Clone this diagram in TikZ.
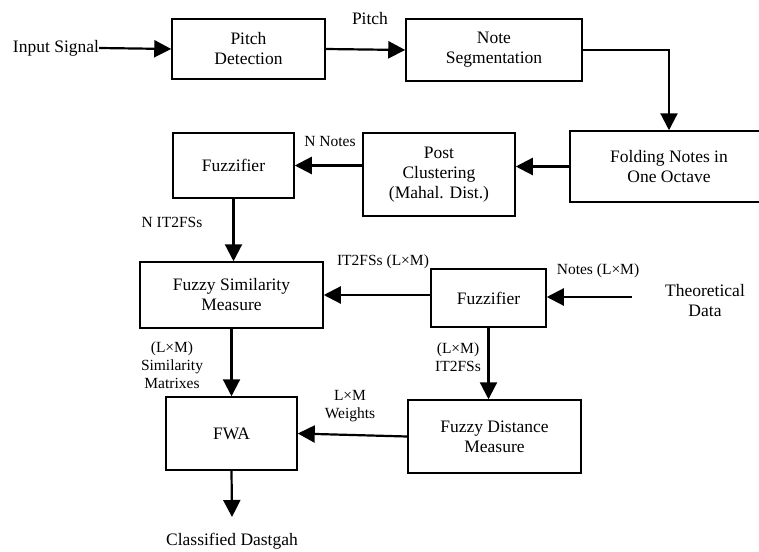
\documentclass[tikz,border=0pt]{standalone}
\usepackage{fontspec}
\setmainfont{Liberation Serif}
\usepackage{tikz}
\usetikzlibrary{arrows.meta}

\begin{document}
\begin{tikzpicture}[x=1pt,y=-1pt,
    blk/.style={draw,line width=1.5pt,align=center,inner sep=0pt,font=\fontsize{17.5}{20}\selectfont},
    txt/.style={align=center,inner sep=0pt,font=\fontsize{17.5}{20}\selectfont},
    lbl/.style={align=center,inner sep=0pt,font=\fontsize{15.5}{18}\selectfont},
    arr/.style={line width=2.2pt,-{Triangle[length=17pt,width=17pt]}}]
    \useasboundingbox (0,0) rectangle (759,551);
    \node[txt] (input) at (56,48) {Input Signal};
    \node[blk,minimum width=153pt,minimum height=60pt] (pitchdet) at (248.5,49) {Pitch\\Detection};
    \node[blk,minimum width=176pt,minimum height=62pt] (noteseg) at (494,50) {Note\\Segmentation};
    \node[blk,minimum width=198pt,minimum height=71pt] (folding) at (669,166.5) {Folding Notes in\\One Octave};
    \node[blk,minimum width=152pt,minimum height=83pt] (postclus) at (439,174.5) {Post\\Clustering\\(Mahal. Dist.)};
    \node[blk,minimum width=121pt,minimum height=65pt] (fuzzA) at (233.5,165.5) {Fuzzifier};
    \node[blk,minimum width=183pt,minimum height=66pt] (fsim) at (231.5,295) {Fuzzy Similarity\\Measure};
    \node[blk,minimum width=115pt,minimum height=58pt] (fuzzB) at (488.5,298) {Fuzzifier};
    \node[blk,minimum width=173pt,minimum height=73pt] (fdist) at (494.5,436.5) {Fuzzy Distance\\Measure};
    \node[blk,minimum width=131pt,minimum height=73pt] (fwa) at (231.5,433.5) {FWA};
    \node[txt] (theory) at (705,301) {Theoretical\\Data};
    \node[txt] (output) at (232,541) {Classified Dastgah};
    \coordinate (theoryend) at (632,297);
    \coordinate (outend) at (232,517);

    \draw[arr] (input.east) -- (pitchdet.west);
    \draw[arr] (pitchdet.east) -- (noteseg.west);
    \draw[arr] (noteseg.east) -| (folding.north);
    \draw[arr] (folding.west) -- (postclus.east |- folding.west);
    \draw[arr] (postclus.west |- fuzzA.east) -- (fuzzA.east);
    \draw[arr] (fuzzA.south) -- (fsim.north -| fuzzA.south);
    \draw[arr] (fuzzB.west |- fsim.east) -- (fsim.east);
    \draw[arr] (theoryend) -- (fuzzB.east |- theoryend);
    \draw[arr] (fuzzB.south) -- (fdist.north -| fuzzB.south);
    \draw[arr] (fsim.south) -- (fwa.north);
    \draw[arr] (fdist.west) -- (fwa.east);
    \draw[arr] (fwa.south) -- (outend);

    \node[txt] (pitchlbl) at (370,19) {Pitch};
    \node[lbl] (nnotes) at (330,141) {N Notes};
    \node[lbl] (nsets) at (172,222) {N IT2FSs};
    \node[lbl] (setslm) at (383,262) {IT2FSs (L×M)};
    \node[lbl] (noteslm) at (598,271) {Notes (L×M)};
    \node[lbl] (lmsets) at (458,357) {(L×M)\\IT2FSs};
    \node[lbl] (simmat) at (172,365) {(L×M)\\Similarity\\Matrixes};
    \node[lbl] (weights) at (350,406) {L×M\\Weights};
  \end{tikzpicture}
\end{document}
